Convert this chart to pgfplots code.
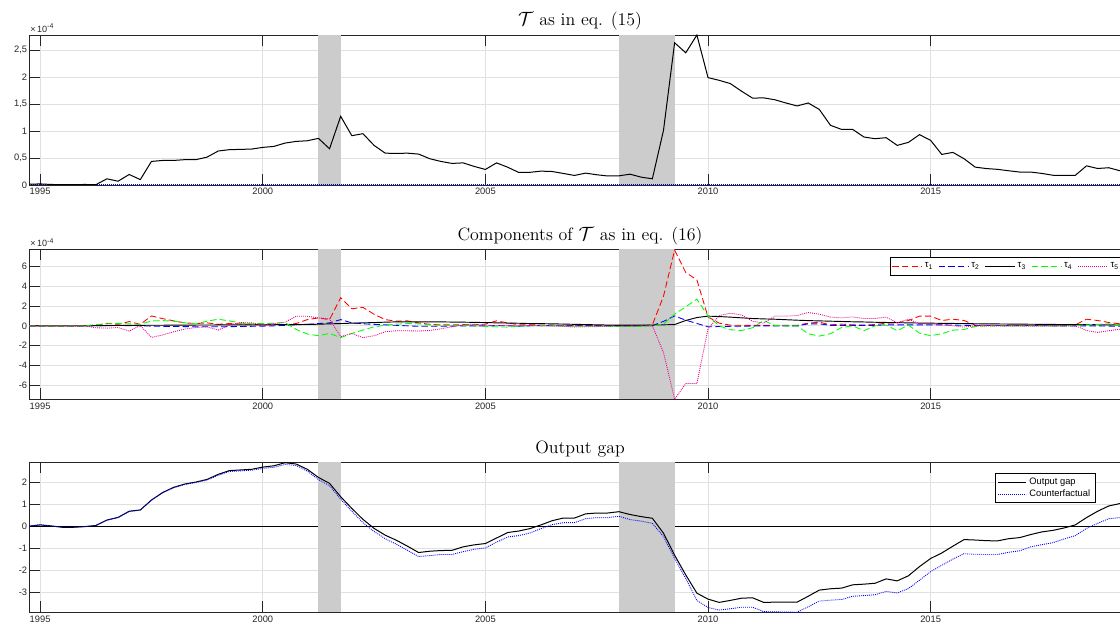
\documentclass[border=0pt]{standalone}
\usepackage{fontspec}
\usepackage{pgfplots}
\pgfplotsset{compat=1.18}
\usepackage{pgfplotstable}
\newfontfamily\sff{Liberation Sans}

\pgfplotstableread{
t T
1994.75 0.015
1995.00 0.02
1995.25 0.01
1995.50 0.005
1995.75 0.005
1996.00 0.01
1996.25 0.005
1996.50 0.115
1996.75 0.07
1997.00 0.195
1997.25 0.10
1997.50 0.437
1997.75 0.455
1998.00 0.455
1998.25 0.47
1998.50 0.47
1998.75 0.517
1999.00 0.63
1999.25 0.655
1999.50 0.66
1999.75 0.666
2000.00 0.697
2000.25 0.715
2000.50 0.777
2000.75 0.808
2001.00 0.82
2001.25 0.864
2001.50 0.672
2001.75 1.273
2002.00 0.914
2002.25 0.951
2002.50 0.734
2002.75 0.59
2003.00 0.585
2003.25 0.59
2003.50 0.573
2003.75 0.487
2004.00 0.437
2004.25 0.40
2004.50 0.41
2004.75 0.344
2005.00 0.288
2005.25 0.41
2005.50 0.33
2005.75 0.232
2006.00 0.235
2006.25 0.257
2006.50 0.25
2006.75 0.214
2007.00 0.177
2007.25 0.22
2007.50 0.19
2007.75 0.167
2008.00 0.17
2008.25 0.20
2008.50 0.145
2008.75 0.115
2009.00 1.013
2009.25 2.636
2009.50 2.45
2009.75 2.78
2010.00 1.99
2010.25 1.94
2010.50 1.88
2010.75 1.74
2011.00 1.61
2011.25 1.615
2011.50 1.58
2011.75 1.52
2012.00 1.465
2012.25 1.52
2012.50 1.40
2012.75 1.106
2013.00 1.03
2013.25 1.03
2013.50 0.89
2013.75 0.858
2014.00 0.877
2014.25 0.734
2014.50 0.79
2014.75 0.933
2015.00 0.827
2015.25 0.567
2015.50 0.604
2015.75 0.487
2016.00 0.331
2016.25 0.305
2016.50 0.29
2016.75 0.264
2017.00 0.24
2017.25 0.24
2017.50 0.214
2017.75 0.18
2018.00 0.18
2018.25 0.18
2018.50 0.355
2018.75 0.306
2019.00 0.32
2019.25 0.264
}\tabT

\pgfplotstableread{
t r b k g m
1994.75 0 0 0 0 0
1995.00 0 0 0 0 0
1995.25 0 0 0 0 0
1995.50 0 0 0 0 0
1995.75 0 0 0 0 0
1996.00 0 0 0 0 0
1996.25 0.05 0 0.02 0.13 -0.2
1996.50 0.25 0.02 0.03 0.2 -0.23
1996.75 0.15 0.03 0.04 0.23 -0.17
1997.00 0.43 0.02 0.05 0.2 -0.53
1997.25 0.15 0.0 0.05 0.15 0.03
1997.50 1.0 -0.03 0.06 0.5 -1.17
1997.75 0.73 -0.05 0.06 0.53 -0.93
1998.00 0.5 -0.07 0.07 0.47 -0.6
1998.25 0.3 -0.08 0.07 0.3 -0.33
1998.50 0.23 -0.1 0.08 0.2 -0.17
1998.75 0.3 -0.1 0.08 0.47 -0.1
1999.00 0.15 -0.1 0.09 0.67 -0.43
1999.25 0.23 -0.08 0.09 0.5 0.07
1999.50 0.2 -0.07 0.1 0.27 0.33
1999.75 0.15 -0.05 0.1 0.2 0.3
2000.00 0.1 -0.03 0.1 0.23 0.1
2000.25 0.15 0.0 0.11 0.27 0.23
2000.50 0.1 0.05 0.12 0.33 0.37
2000.75 0.23 0.1 0.13 -0.37 0.97
2001.00 0.63 0.15 0.14 -0.83 0.97
2001.25 0.8 0.23 0.16 -1.0 0.8
2001.50 0.63 0.3 0.2 -0.77 0.7
2001.75 2.85 0.63 0.23 -1.2 -1.1
2002.00 1.73 0.3 0.27 -0.77 -0.77
2002.25 1.87 0.2 0.3 -0.43 -1.2
2002.50 1.17 0.15 0.33 -0.1 -1.0
2002.75 0.63 0.1 0.37 0.07 -0.6
2003.00 0.47 0.05 0.4 0.17 -0.5
2003.25 0.5 0.0 0.4 0.23 -0.5
2003.50 0.3 -0.05 0.4 0.2 -0.53
2003.75 0.15 -0.05 0.4 0.1 -0.47
2004.00 0.1 -0.05 0.4 0.07 -0.3
2004.25 0.1 -0.03 0.38 0.05 -0.1
2004.50 0.12 0.0 0.37 0.05 0.1
2004.75 0.1 0.0 0.35 0.0 0.17
2005.00 0.17 0.0 0.33 -0.05 0.07
2005.25 0.5 0.02 0.3 -0.1 0.03
2005.50 0.3 0.0 0.28 -0.13 0.05
2005.75 0.1 -0.03 0.26 -0.05 0
2006.00 0.1 0.0 0.23 0.0 0.03
2006.25 0.08 0.02 0.22 0.02 0.0
2006.50 0.08 0.02 0.2 0.0 -0.02
2006.75 0.05 0.0 0.18 -0.03 -0.05
2007.00 0.05 0.0 0.15 -0.05 -0.13
2007.25 0.05 0.0 0.13 -0.05 -0.1
2007.50 0.03 0.0 0.1 -0.05 -0.08
2007.75 0.03 0.0 0.08 -0.05 -0.05
2008.00 0.02 0.0 0.07 -0.07 -0.05
2008.25 0.02 0.0 0.07 -0.07 -0.03
2008.50 0.02 0.0 0.07 -0.05 -0.02
2008.75 0.1 0.02 0.08 0.0 0.0
2009.00 3.0 0.45 0.1 0.17 -2.7
2009.25 7.67 1.0 0.13 1.18 -7.43
2009.50 5.4 0.57 0.54 1.93 -5.85
2009.75 4.66 0.24 0.84 2.7 -5.85
2010.00 0.9 -0.1 0.98 1.0 -0.3
2010.25 0.27 -0.07 0.94 0.0 1.04
2010.50 0.07 -0.05 0.88 -0.4 1.28
2010.75 0.05 -0.05 0.81 -0.47 1.1
2011.00 0.05 -0.03 0.74 -0.2 0.47
2011.25 0.05 0.0 0.7 0.54 0.27
2011.50 0.05 0.0 0.67 0.03 0.98
2011.75 0.05 0.0 0.62 0.0 0.98
2012.00 0.05 0.0 0.57 0.0 1.04
2012.25 0.27 0.2 0.53 -0.8 1.35
2012.50 0.37 0.2 0.5 -1.04 1.18
2012.75 0.1 0.05 0.47 -0.8 0.88
2013.00 0.17 0.05 0.44 -0.17 0.81
2013.25 0.1 0.05 0.41 0.0 0.9
2013.50 0.07 0.05 0.39 -0.5 0.74
2013.75 0.13 0.05 0.36 0.0 0.74
2014.00 0.27 0.1 0.34 0.07 0.88
2014.25 0.3 0.1 0.32 -0.5 0.3
2014.50 0.54 0.1 0.3 0.07 0.67
2014.75 0.98 0.1 0.28 -0.74 0.2
2015.00 0.98 0.1 0.27 -1.0 0.2
2015.25 0.54 0.1 0.25 -0.8 0.1
2015.50 0.67 0.08 0.24 -0.44 0.0
2015.75 0.54 0.05 0.23 -0.37 -0.13
2016.00 0.07 0.03 0.21 -0.07 0.0
2016.25 0.05 0.03 0.2 0.0 0.0
2016.50 0.05 0.03 0.19 0.0 0.0
2016.75 0.05 0.02 0.18 0.0 0.0
2017.00 0.05 0.02 0.17 0.0 0.0
2017.25 0.05 0.02 0.16 0.0 0.0
2017.50 0.05 0.02 0.15 0.0 0.0
2017.75 0.05 0.0 0.14 0.0 0.0
2018.00 0.05 0.0 0.13 0.0 0.0
2018.25 0.1 0.0 0.12 0.05 0.0
2018.50 0.67 0.0 0.12 0.1 -0.47
2018.75 0.54 0.0 0.11 0.15 -0.67
2019.00 0.34 -0.03 0.1 0.2 -0.5
2019.25 0.2 -0.05 0.1 0.1 -0.34
}\tabC

\pgfplotstableread{
t og cf
1994.75 0.02 0.02
1995.00 0.08 0.08
1995.25 0.03 0.03
1995.50 -0.03 -0.03
1995.75 -0.03 -0.03
1996.00 0.0 0.0
1996.25 0.05 0.05
1996.50 0.30 0.29
1996.75 0.42 0.41
1997.00 0.70 0.69
1997.25 0.76 0.75
1997.50 1.21 1.20
1997.75 1.55 1.54
1998.00 1.79 1.77
1998.25 1.94 1.92
1998.50 2.03 2.01
1998.75 2.15 2.12
1999.00 2.38 2.34
1999.25 2.55 2.51
1999.50 2.58 2.54
1999.75 2.61 2.57
2000.00 2.71 2.65
2000.25 2.77 2.70
2000.50 2.91 2.83
2000.75 2.85 2.78
2001.00 2.61 2.53
2001.25 2.24 2.14
2001.50 1.97 1.86
2001.75 1.36 1.25
2002.00 0.83 0.70
2002.25 0.33 0.18
2002.50 -0.08 -0.22
2002.75 -0.39 -0.55
2003.00 -0.62 -0.80
2003.25 -0.89 -1.08
2003.50 -1.18 -1.36
2003.75 -1.12 -1.32
2004.00 -1.09 -1.27
2004.25 -1.08 -1.27
2004.50 -0.92 -1.14
2004.75 -0.83 -1.03
2005.00 -0.77 -0.97
2005.25 -0.52 -0.71
2005.50 -0.27 -0.47
2005.75 -0.20 -0.41
2006.00 -0.09 -0.29
2006.25 0.08 -0.09
2006.50 0.27 0.09
2006.75 0.39 0.18
2007.00 0.39 0.18
2007.25 0.58 0.36
2007.50 0.62 0.41
2007.75 0.62 0.41
2008.00 0.68 0.47
2008.25 0.55 0.32
2008.50 0.455 0.25
2008.75 0.38 0.15
2009.00 -0.30 -0.45
2009.25 -1.30 -1.45
2009.50 -2.20 -2.36
2009.75 -3.03 -3.36
2010.00 -3.30 -3.68
2010.25 -3.45 -3.80
2010.50 -3.36 -3.74
2010.75 -3.26 -3.67
2011.00 -3.24 -3.67
2011.25 -3.45 -3.87
2011.50 -3.44 -3.88
2011.75 -3.44 -3.89
2012.00 -3.44 -3.90
2012.25 -3.17 -3.65
2012.50 -2.89 -3.39
2012.75 -2.83 -3.35
2013.00 -2.80 -3.32
2013.25 -2.65 -3.17
2013.50 -2.62 -3.14
2013.75 -2.58 -3.10
2014.00 -2.38 -2.95
2014.25 -2.47 -3.02
2014.50 -2.24 -2.82
2014.75 -1.82 -2.44
2015.00 -1.45 -2.05
2015.25 -1.20 -1.76
2015.50 -0.89 -1.48
2015.75 -0.59 -1.23
2016.00 -0.61 -1.26
2016.25 -0.64 -1.27
2016.50 -0.65 -1.27
2016.75 -0.55 -1.17
2017.00 -0.50 -1.10
2017.25 -0.36 -0.92
2017.50 -0.24 -0.82
2017.75 -0.17 -0.73
2018.00 -0.06 -0.56
2018.25 0.08 -0.41
2018.50 0.41 -0.08
2018.75 0.70 0.15
2019.00 0.94 0.36
2019.25 1.05 0.41
}\tabG

\pgfplotsset{
  myax/.style={
    scale only axis, width=826.5pt, height=112.5pt,
    anchor=north west,
    xmin=1994.75, xmax=2019.5,
    xtick={1995,2000,2005,2010,2015},
    xticklabels={1995,2000,2005,2010,2015},
    tick align=inside, major tick length=8.25pt,
    tick pos=both, xticklabel pos=lower, yticklabel pos=left,
    grid=major, grid style={black!12, line width=0.5pt},
    axis line style={black!85, line width=0.6pt},
    tick style={black!85, line width=0.6pt},
    tick label style={font=\sff\fontsize{7}{8}\selectfont, text=black!85},
    yticklabel style={inner xsep=1.2pt},
    xticklabel style={inner ysep=2.3pt},
    /pgf/number format/assume math mode=true,
    title style={at={(0.5,1)}, anchor=base, yshift=0.9pt, font=\fontsize{13.4}{16}\selectfont},
  },
  dsh/.style={line width=0.65pt, dash pattern=on 4.8pt off 2.4pt},
  dot/.style={line width=0.65pt, dash pattern=on 0.7pt off 0.8pt},
  band/.style={draw=none, fill=black!20, forget plot},
}

\begin{document}
\begin{tikzpicture}

% ---------- Panel 1 ----------
\begin{axis}[myax, name=a1, at={(21.75pt,-26.25pt)},
  ymin=0, ymax=2.78,
  ytick={0,0.5,1,1.5,2,2.5}, yticklabels={0,{0,5},1,{1,5},2,{2,5}},
  title={$\mathcal{T}$ as in eq. (15)}]
\addplot[band] coordinates {(2001.25,0) (2001.75,0) (2001.75,2.78) (2001.25,2.78)} --cycle;
\addplot[band] coordinates {(2008.0,0) (2009.25,0) (2009.25,2.78) (2008.0,2.78)} --cycle;
\addplot[blue, dot, line width=0.9pt] coordinates {(1994.75,0.01) (2019.5,0.01)};
\addplot[black, line width=0.75pt] table[x=t, y=T] {\tabT};
\end{axis}
\node[anchor=base west, inner sep=0pt, text=black!85, font=\sff\fontsize{6.8}{7}\selectfont]
  at ([xshift=0.8pt, yshift=2pt]a1.north west) {×\,10\raisebox{0.75ex}{\fontsize{5.2}{5}\selectfont -4}};

% ---------- Panel 2 ----------
\begin{axis}[myax, name=a2, at={(21.75pt,-187pt)},
  ymin=-7.45, ymax=7.75,
  ytick={-6,-4,-2,0,2,4,6}, yticklabels={-6,-4,-2,0,2,4,6},
  title={Components of $\mathcal{T}$ as in eq. (16)},
  legend columns=5,
  legend style={at={(0.781,0.949)}, anchor=north west, draw=black, line width=0.5pt,
    fill=white, font=\sff\fontsize{7.2}{8}\selectfont, inner xsep=1.5pt, inner ysep=2.2pt,
    /tikz/every even column/.append style={column sep=2pt}},
  legend image code/.code={\draw[#1] (0pt,0pt) -- (22pt,0pt);}]
\addplot[band] coordinates {(2001.25,-7.45) (2001.75,-7.45) (2001.75,7.75) (2001.25,7.75)} --cycle;
\addplot[band] coordinates {(2008.0,-7.45) (2009.25,-7.45) (2009.25,7.75) (2008.0,7.75)} --cycle;
\addplot[red, dsh] table[x=t, y=r] {\tabC};
\addlegendentry{τ\textsubscript{1}}
\addplot[blue, dsh] table[x=t, y=b] {\tabC};
\addlegendentry{τ\textsubscript{2}}
\addplot[black, line width=0.7pt] table[x=t, y=k] {\tabC};
\addlegendentry{τ\textsubscript{3}}
\addplot[green, dsh] table[x=t, y=g] {\tabC};
\addlegendentry{τ\textsubscript{4}}
\addplot[magenta, dot] table[x=t, y=m] {\tabC};
\addlegendentry{τ\textsubscript{5}}
\end{axis}
\node[anchor=base west, inner sep=0pt, text=black!85, font=\sff\fontsize{6.8}{7}\selectfont]
  at ([xshift=0.8pt, yshift=2pt]a2.north west) {×\,10\raisebox{0.75ex}{\fontsize{5.2}{5}\selectfont -4}};

% ---------- Panel 3 ----------
\begin{axis}[myax, name=a3, at={(21.75pt,-346.7pt)},
  ymin=-3.9, ymax=2.93,
  ytick={-3,-2,-1,0,1,2}, yticklabels={-3,-2,-1,0,1,2},
  title={Output gap},
  legend cell align=left,
  legend style={at={(0.877,0.927)}, anchor=north west, draw=black, line width=0.5pt,
    fill=white, font=\sff\fontsize{7}{8}\selectfont, inner xsep=1.5pt, inner ysep=1.2pt,
    row sep=-1.5pt},
  legend image code/.code={\draw[#1] (0pt,0pt) -- (21pt,0pt);}]
\addplot[black, line width=0.75pt, forget plot] coordinates {(1994.75,0) (2019.5,0)};
\addplot[band] coordinates {(2001.25,-3.9) (2001.75,-3.9) (2001.75,2.93) (2001.25,2.93)} --cycle;
\addplot[band] coordinates {(2008.0,-3.9) (2009.25,-3.9) (2009.25,2.93) (2008.0,2.93)} --cycle;
\addplot[black, line width=0.75pt] table[x=t, y=og] {\tabG};
\addlegendentry{Output gap}
\addplot[blue, dot] table[x=t, y=cf] {\tabG};
\addlegendentry{Counterfactual}
\end{axis}

\pgfresetboundingbox
\useasboundingbox (0pt,-470.25pt) rectangle (840pt,0pt);
\end{tikzpicture}
\end{document}
